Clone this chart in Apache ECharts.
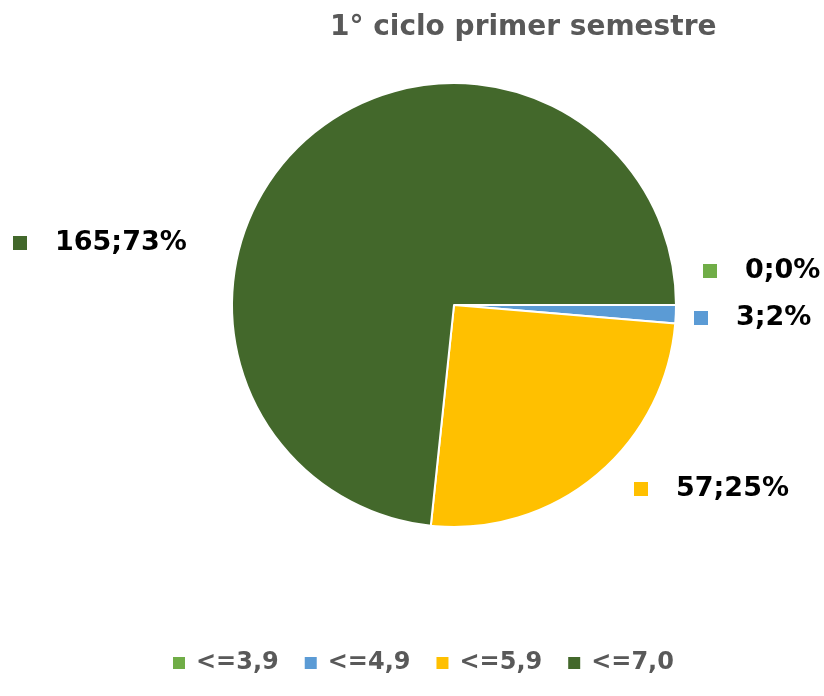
<!DOCTYPE html>
<html>
<head>
<meta charset="utf-8">
<script src="https://cdn.jsdelivr.net/npm/echarts@6/dist/echarts.min.js"></script>
<style>
  html, body { margin: 0; padding: 0; background: #fff; }
  #chart { width: 824px; height: 696px; }
</style>
</head>
<body>
<div id="chart"></div>
<script>
const categories = ['<=3,9', '<=4,9', '<=5,9', '<=7,0']
const values = [0, 3, 57, 165]
const percentLabels = ['0%', '2%', '25%', '73%']
const colors = ['#70AD47', '#5B9BD5', '#FFC000', '#43682B']

// where each data label sits (left edge of marker, vertical middle)
const labelSpots = [
  { x: 703, y: 271 },
  { x: 694, y: 318 },
  { x: 634, y: 489 },
  { x: 13, y: 243 },
]

const font = '"DejaVu Sans", sans-serif'
const chart = echarts.init(document.getElementById('chart'))

chart.setOption({
  animation: false,
  title: {
    text: '1° ciclo primer semestre',
    left: 325,
    top: 9,
    textStyle: { color: '#595959', fontFamily: font, fontWeight: 'bold', fontSize: 28 },
  },
  legend: {
    data: categories,
    bottom: 16,
    left: 166,
    icon: 'rect',
    itemWidth: 14,
    itemHeight: 14,
    itemGap: 24,
    textStyle: { color: '#595959', fontFamily: font, fontWeight: 'bold', fontSize: 24, padding: [0, 0, 0, 5] },
  },
  series: [{
    type: 'pie',
    center: [454, 305],
    radius: 222,
    startAngle: 0,
    clockwise: true,
    avoidLabelOverlap: false,
    itemStyle: { borderColor: '#fff', borderWidth: 2 },
    labelLine: { show: false },
    label: {
      show: true,
      position: 'outside',
      formatter: (p) => `{m${p.dataIndex}|}{t|${p.value};${percentLabels[p.dataIndex]}}`,
      rich: {
        m0: { width: 14, height: 14, backgroundColor: colors[0] },
        m1: { width: 14, height: 14, backgroundColor: colors[1] },
        m2: { width: 14, height: 14, backgroundColor: colors[2] },
        m3: { width: 14, height: 14, backgroundColor: colors[3] },
        t: { color: '#000', fontFamily: font, fontWeight: 'bold', fontSize: 27, padding: [0, 0, 0, 28] },
      },
    },
    labelLayout: (params) => {
      const s = labelSpots[params.dataIndex]
      return { x: s.x, y: s.y, align: 'left', verticalAlign: 'middle' }
    },
    emphasis: { disabled: true },
    data: categories.map((c, i) => ({ name: c, value: values[i], itemStyle: { color: colors[i] } })),
  }],
})
</script>
</body>
</html>
